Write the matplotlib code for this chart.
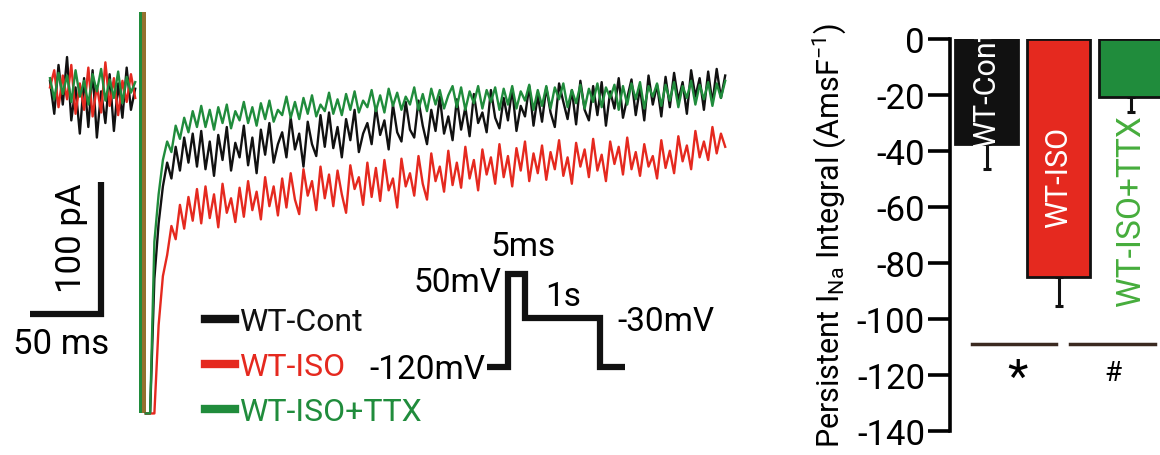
import numpy as np
import matplotlib.pyplot as plt

plt.rcParams['font.family'] = ['Roboto', 'DejaVu Sans']
plt.rcParams['mathtext.fontset'] = 'custom'
plt.rcParams['mathtext.rm'] = 'Roboto'
plt.rcParams['mathtext.it'] = 'Roboto:italic'
plt.rcParams['axes.unicode_minus'] = False

BLACK = '#111111'
RED = '#e5291f'
GREEN = '#208c3c'
BROWN = '#94702f'

# ---- persistent current traces (pA), every 3 ms ----
dt = 3.0
pulse_on = 62.5          # ms, start of the 5 ms step to +50 mV (artefact blanked)
pulse_dur = 5.0
post_start = 67.5        # ms, first sample at -30 mV
clip_hi, clip_lo = 62, -242

base_black = [10, -15, 22, -8, 28, -20, 5, -30, 12, -25, 18, -33, 2, -22, 15, -28, 8, -18, 20, -12, 4]
base_red = [5, 18, -10, 14, -4, 22, -15, 8, -12, 20, -17, 6, -14, 24, -9, 12, -16, 10, -6, 15, -3]
base_green = [12, -4, 16, 0, 14, -6, 18, -2, 10, -8, 15, 2, 19, -5, 11, -3, 17, -7, 13, 1, 9]

post_black = [-242, -242, -140, -98, -70, -52, -64, -40, -58, -33, -52, -30, -55,
              -28, -57, -36, -62, -31, -50, -25, -58, -37, -48,
              -24, -54, -33, -60, -27, -46, -22, -52, -38, -29,
              -48, -18, -42, -30, -55, -21, -38, -47, -16, -40,
              -14, -41, -25, -48, -19, -35, -12, -44, -30, -22,
              -38, -10, -31, -20, -42, -8, -29, -36, -6, -27,
              -33, -5, -24, -38, -12, -28, -2, -30, -17, -35,
              -4, -27, -10, -32, 0, -22, -14, -29, 3, -18,
              -26, -3, -20, 4, -28, -9, -17, 6, -24, -1,
              -21, 5, -14, -25, 8, -6, -19, 3, -23, 10,
              -12, -20, 6, -16, 9, -24, 2, -11, 12, -18,
              -3, 11, -16, 5, -20, 14, -8, 7, -17, 13,
              -10, 16, -5, 9, -15, 18, -2, 12, -12, 17,
              -7, 19, -3, 14]

post_red = [-242, -242, -242, -175, -138, -122, -100, -110, -84, -102, -78, -96, -72,
            -98, -70, -94, -76, -101, -68, -90, -79, -97, -71,
            -93, -66, -88, -74, -95, -63, -85, -70, -92, -64,
            -86, -60, -80, -91, -57, -77, -66, -88, -55, -79,
            -61, -85, -58, -76, -90, -54, -72, -63, -84, -52,
            -78, -56, -81, -50, -73, -64, -86, -49, -70, -60,
            -77, -47, -68, -80, -45, -66, -55, -74, -43, -69,
            -52, -71, -40, -64, -50, -73, -42, -61, -48, -68,
            -38, -63, -47, -70, -41, -58, -36, -66, -45, -60,
            -39, -65, -44, -57, -35, -62, -48, -68, -37, -55,
            -42, -63, -34, -58, -46, -66, -36, -53, -40, -61,
            -33, -57, -44, -62, -38, -55, -47, -64, -35, -56,
            -43, -60, -32, -51, -39, -57, -28, -48, -36, -50,
            -25, -45, -30, -40]

post_green = [-242, -242, -112, -76, -50, -36, -44, -24, -34, -18, -29, -13, -25,
              -9, -25, -12, -27, -10, -22, -8, -26, -13, -20,
              -6, -22, -10, -24, -7, -19, -5, -21, -12, -16,
              -2, -18, -6, -19, -3, -15, -1, -17, -8, -13,
              1, -15, -4, -16, 0, -12, 2, -14, -5, -10,
              3, -13, -1, -14, 4, -9, 1, -12, -2, -8,
              5, -12, 0, -13, 4, -8, 3, -11, -1, 6,
              -10, 5, -12, 2, -7, 6, -11, 3, -6, 5,
              -12, 4, -8, 6, -11, 2, -5, 7, -12, 3,
              -9, 6, -11, 5, -4, 8, -10, 3, -7, 7,
              -11, 4, -6, 8, -10, 5, -3, 7, -12, 6,
              -8, 8, -4, 9, -11, 6, -2, 8, -9, 7,
              -5, 9, -10, 6, -3, 10, -8, 7, -4, 9,
              -9, 8, -3, 10]

trace_names = ['WT-Cont', 'WT-ISO', 'WT-ISO+TTX']
trace_colors = [BLACK, RED, GREEN]
traces = [(base_black, post_black), (base_red, post_red), (base_green, post_green)]

# ---- voltage protocol ----
proto_levels = [-120, 50, -30, -120]      # mV
proto_widths = [21, 17, 75, 25]           # schematic widths (not to scale)

# ---- bar chart: persistent I_Na integral ----
groups = ['WT-Cont', 'WT-ISO', 'WT-ISO+TTX']
means = [-37.5, -85.0, -20.8]
sems = [8.9, 10.4, 5.4]
bar_colors = [BLACK, RED, GREEN]

W, H = 1160, 456
fig = plt.figure(figsize=(W / 100, H / 100), dpi=100)

# left panel: pixel -> data mapping (1.42 px/ms, 1.32 px/pA, zero at px (50, 95))
ax1 = fig.add_axes([0, 0, 760 / W, 1])
ax1.set_xlim((0 - 50) / 1.42, (760 - 50) / 1.42)
ax1.set_ylim((95 - 456) / 1.32, 95 / 1.32)
ax1.axis('off')

handles = []
for (base, post), col, name in zip(traces, trace_colors, trace_names):
    tb = np.arange(len(base)) * dt
    tp = post_start + np.arange(len(post)) * dt
    ax1.plot(tb, base, color=col, lw=1.7)
    ln, = ax1.plot(tp, post, color=col, lw=1.7, label=name)
    handles.append(ln)

# blanked capacitive artefact during the 5 ms step
ax1.fill_betweenx([clip_lo, clip_hi], pulse_on, pulse_on + pulse_dur / 2, color=GREEN, lw=0)
ax1.fill_betweenx([clip_lo, clip_hi], pulse_on + pulse_dur / 2, pulse_on + pulse_dur, color=BROWN, lw=0)

# scale bar 50 ms / 100 pA
sx, sy = 36.0, -166.7
ax1.plot([sx - 50, sx, sx], [sy, sy, sy + 100], color=BLACK, lw=4.5,
         solid_joinstyle='miter', solid_capstyle='butt')
ax1.text(sx - 21, sy + 58, '100 pA', rotation=90, ha='center', va='center', fontsize=25)
ax1.text(sx - 62, sy - 22, '50 ms', ha='left', va='center', fontsize=25)

leg = ax1.legend(handles=handles, loc='upper left', bbox_to_anchor=(205 / W, 1 - 308 / H),
                 bbox_transform=fig.transFigure, frameon=False, fontsize=23,
                 handlelength=0.95, handletextpad=0.12, labelspacing=0.5,
                 borderpad=0, borderaxespad=0, labelcolor=trace_colors)
for h in leg.legend_handles:
    h.set_linewidth(6)

# protocol inset
axp = fig.add_axes([480 / W, (H - 380) / H, 160 / W, 120 / H])
edges = np.concatenate([[0], np.cumsum(proto_widths)])
axp.step(edges, proto_levels + [proto_levels[-1]], where='post', color=BLACK, lw=4.5,
         solid_joinstyle='miter', solid_capstyle='butt')
axp.set_xlim(-7, 153)
axp.set_ylim(-120 - 12 * 1.828, 50 + 15 * 1.828)
axp.axis('off')
fs_p = 24
axp.text(36, 101, '5ms', ha='center', va='center', fontsize=fs_p, clip_on=False)
axp.text(15, 35, '50mV', ha='right', va='center', fontsize=fs_p, clip_on=False)
axp.text(76, 10, '1s', ha='center', va='center', fontsize=fs_p, clip_on=False)
axp.text(130, -35, '-30mV', ha='left', va='center', fontsize=fs_p, clip_on=False)
axp.text(-2, -124, '-120mV', ha='right', va='center', fontsize=fs_p, clip_on=False)

# right panel
ax2 = fig.add_axes([950 / W, (H - 432) / H, 217 / W, 392 / H])
x = np.arange(len(groups))
bars = ax2.bar(x, means, width=0.875, color=bar_colors, edgecolor=BLACK, lw=2, zorder=2)
ax2.errorbar(x, means, yerr=[sems, [0] * len(sems)], fmt='none', ecolor=BLACK,
             elinewidth=2.2, capsize=3, capthick=2.2, zorder=1)
ax2.set_xlim(-0.51, 2.5)
ax2.set_ylim(-140, 0)
ax2.set_yticks(np.arange(0, -141, -20))
ax2.set_xticks([])
for s in ['top', 'right', 'bottom']:
    ax2.spines[s].set_visible(False)
ax2.spines['left'].set_linewidth(2.6)
ax2.tick_params(axis='y', length=16, width=2.6, labelsize=25, pad=2)
ax2.set_ylabel('Persistent I$_{\\mathrm{Na}}$ Integral (AmsF$^{\\mathrm{-1}}$)', fontsize=22)
ax2.yaxis.set_label_coords(-0.47, 0.5)

t0 = ax2.text(0, means[0] - 1, groups[0], rotation=90, ha='center', va='bottom',
              color='white', fontsize=22, zorder=3)
t0.set_clip_path(bars[0])
ax2.text(1, -49, groups[1], rotation=90, ha='center', va='center', color='white',
         fontsize=22, zorder=3)
ax2.text(2, -61, groups[2], rotation=90, ha='center', va='center', color='#46ad3c',
         fontsize=24, zorder=3)

ax2.plot([-0.21, 0.96], [-109, -109], color='#3b2a20', lw=2.5, clip_on=False)
ax2.plot([1.15, 2.33], [-109, -109], color='#3b2a20', lw=2.5, clip_on=False)
ax2.text(0.43, -121, '*', ha='center', va='center', fontsize=34)
ax2.text(1.75, -119, '#', ha='center', va='center', fontsize=20)

fig.savefig('out.png', dpi=100)
